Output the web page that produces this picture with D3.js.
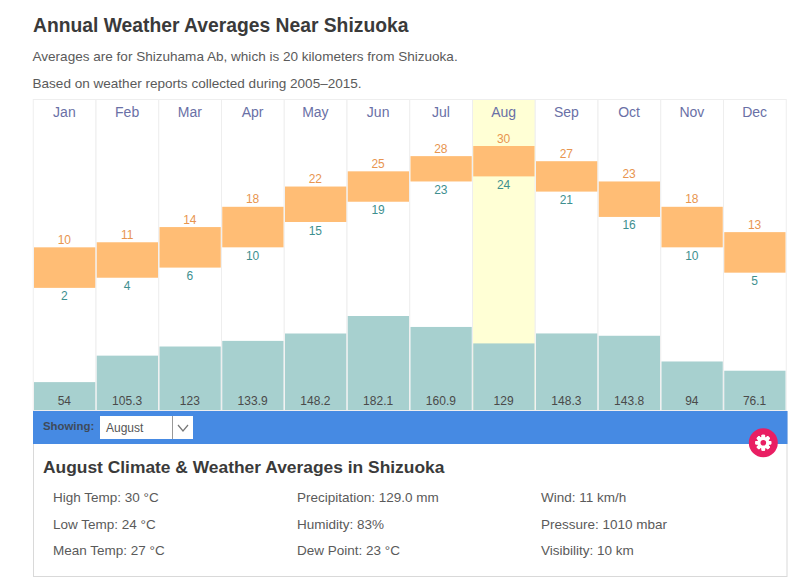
<!DOCTYPE html>
<html>
<head>
<meta charset="utf-8">
<script src="https://cdn.jsdelivr.net/npm/d3@7.9.0/dist/d3.min.js"></script>
<style>
  html, body { margin: 0; padding: 0; background: #fff; }
  svg { display: block; font-family: "Liberation Sans", Arial, sans-serif; }
</style>
</head>
<body>
<svg id="chart" width="800" height="588"></svg>
<script>
// chart values
const months = ['Jan', 'Feb', 'Mar', 'Apr', 'May', 'Jun', 'Jul', 'Aug', 'Sep', 'Oct', 'Nov', 'Dec'];
const highTemps = [10, 11, 14, 18, 22, 25, 28, 30, 27, 23, 18, 13];
const lowTemps = [2, 4, 6, 10, 15, 19, 23, 24, 21, 16, 10, 5];
const precip = [54, 105.3, 123, 133.9, 148.2, 182.1, 160.9, 129, 148.3, 143.8, 94, 76.1];
const selectedMonth = 'Aug';

const detailColumns = [
  ['High Temp: 30 °C', 'Low Temp: 24 °C', 'Mean Temp: 27 °C'],
  ['Precipitation: 129.0 mm', 'Humidity: 83%', 'Dew Point: 23 °C'],
  ['Wind: 11 km/h', 'Pressure: 1010 mbar', 'Visibility: 10 km']
];

const svg = d3.select('#chart');

// header text
svg.append('text').attr('x', 33).attr('y', 32)
  .attr('font-size', 19.3).attr('font-weight', 'bold').attr('fill', '#3a3a3a')
  .text('Annual Weather Averages Near Shizuoka');
svg.append('text').attr('x', 32.5).attr('y', 61)
  .attr('font-size', 13.55).attr('fill', '#5a5a5a')
  .text('Averages are for Shizuhama Ab, which is 20 kilometers from Shizuoka.');
svg.append('text').attr('x', 32.5).attr('y', 88)
  .attr('font-size', 13.55).attr('fill', '#5a5a5a')
  .text('Based on weather reports collected during 2005–2015.');

// scales
const x = d3.scaleBand().domain(months).range([33, 786]);
const yTemp = d3.scaleLinear().domain([0, 30]).range([298, 146]);
const yRain = d3.scaleLinear().domain([0, 182.1]).range([410, 316]);
const plotTop = 99, plotBottom = 410;

// column backgrounds
svg.append('g').selectAll('rect').data(months).join('rect')
  .attr('x', d => x(d) + 0.25)
  .attr('y', plotTop + 0.5)
  .attr('width', x.bandwidth())
  .attr('height', plotBottom - plotTop)
  .attr('fill', d => d === selectedMonth ? '#ffffd5' : '#fff')
  .attr('stroke', '#eeeeee');

// month labels
const monthAxis = svg.append('g')
  .attr('transform', `translate(0,${plotTop + 4})`)
  .call(d3.axisBottom(x).tickSize(0).tickPadding(4));
monthAxis.select('.domain').remove();
monthAxis.selectAll('text')
  .attr('font-family', '"Liberation Sans", Arial, sans-serif')
  .attr('font-size', 14).attr('fill', '#6a70a6');

// temperature range bars
svg.append('g').selectAll('rect').data(months).join('rect')
  .attr('x', d => x(d) + 1)
  .attr('width', x.bandwidth() - 1.5)
  .attr('y', (d, i) => yTemp(highTemps[i]))
  .attr('height', (d, i) => yTemp(lowTemps[i]) - yTemp(highTemps[i]))
  .attr('fill', '#ffbd75');

svg.append('g').selectAll('text').data(highTemps).join('text')
  .attr('x', (d, i) => x(months[i]) + x.bandwidth() / 2)
  .attr('y', d => yTemp(d) - 3.5)
  .attr('text-anchor', 'middle').attr('font-size', 12).attr('fill', '#e8954f')
  .text(d => d);

svg.append('g').selectAll('text').data(lowTemps).join('text')
  .attr('x', (d, i) => x(months[i]) + x.bandwidth() / 2)
  .attr('y', d => yTemp(d) + 12.5)
  .attr('text-anchor', 'middle').attr('font-size', 12).attr('fill', '#3e8f8f')
  .text(d => d);

// precipitation bars
svg.append('g').selectAll('rect').data(precip).join('rect')
  .attr('x', (d, i) => x(months[i]) + 1)
  .attr('width', x.bandwidth() - 1.5)
  .attr('y', d => yRain(d))
  .attr('height', d => plotBottom - yRain(d))
  .attr('fill', '#a7d0cf');

svg.append('g').selectAll('text').data(precip).join('text')
  .attr('x', (d, i) => x(months[i]) + x.bandwidth() / 2)
  .attr('y', 405)
  .attr('text-anchor', 'middle').attr('font-size', 12).attr('fill', '#4a4a4a')
  .text(d => d);

// details panel
svg.append('rect').attr('x', 33.5).attr('y', 411.5).attr('width', 753.5).attr('height', 165)
  .attr('fill', '#fff').attr('stroke', '#d9d9d9');
svg.append('rect').attr('x', 33).attr('y', 411).attr('width', 754.5).attr('height', 33)
  .attr('fill', '#468ae3');

svg.append('text').attr('x', 43).attr('y', 430)
  .attr('font-size', 11.4).attr('font-weight', 'bold').attr('fill', '#3f4a5a')
  .text('Showing:');

// dropdown
svg.append('rect').attr('x', 100).attr('y', 416).attr('width', 93).attr('height', 23).attr('fill', '#fff');
svg.append('line').attr('x1', 172.5).attr('x2', 172.5).attr('y1', 416).attr('y2', 439).attr('stroke', '#999');
svg.append('path').attr('d', 'M178 425L183 431L188 425').attr('fill', 'none').attr('stroke', '#777').attr('stroke-width', 1.2);
svg.append('text').attr('x', 106).attr('y', 432).attr('font-size', 12).attr('fill', '#555').text('August');

svg.append('text').attr('x', 43).attr('y', 473)
  .attr('font-size', 17.4).attr('font-weight', 'bold').attr('fill', '#3a3a3a')
  .text('August Climate & Weather Averages in Shizuoka');

const colX = [53, 297, 541];
const rowY = [502, 529, 555];
detailColumns.forEach((col, c) => {
  svg.append('g').selectAll('text').data(col).join('text')
    .attr('x', colX[c])
    .attr('y', (d, r) => rowY[r])
    .attr('font-size', 13.5).attr('fill', '#5a5a5a')
    .text(d => d);
});

// settings button with gear
const gear = svg.append('g').attr('transform', 'translate(763.3,442.7)');
gear.append('circle').attr('r', 14.5).attr('fill', '#e91e63');
gear.selectAll('rect').data(d3.range(8)).join('rect')
  .attr('x', -1.8).attr('y', -8).attr('width', 3.6).attr('height', 16).attr('rx', 0.8)
  .attr('fill', '#fff')
  .attr('transform', d => `rotate(${d * 45})`);
gear.append('circle').attr('r', 6).attr('fill', '#fff');
gear.append('circle').attr('r', 2.8).attr('fill', '#e91e63');
</script>
</body>
</html>
